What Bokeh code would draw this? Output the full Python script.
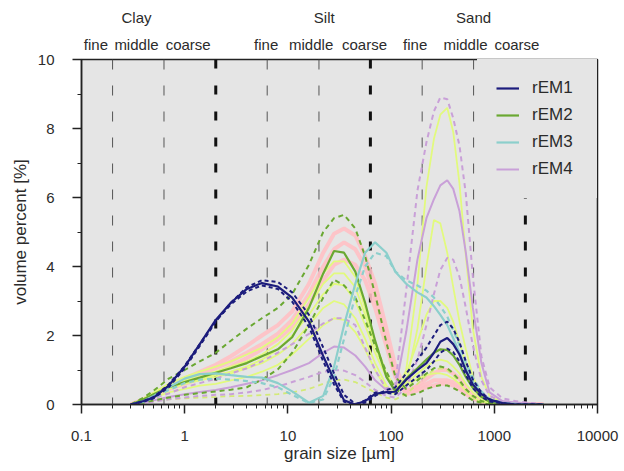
from bokeh.plotting import figure
from bokeh.models import (Range1d, FixedTicker, CustomJSTickFormatter, Legend, LegendItem, LogAxis)
from bokeh.embed import file_html
from bokeh.resources import INLINE

# ---------------- data ----------------
GRAIN_UM = [0.3, 0.4, 0.5, 0.7, 1.0, 1.4, 2.0, 2.8, 4.0, 5.6, 8.0,
            11, 16, 22, 28, 35, 45, 56, 70, 90,
            110, 140, 180, 220, 260, 300, 350, 400, 460, 530, 620, 750, 900,
            1200, 1600, 2200, 3000]

REM1 = [0.0, 0.1, 0.2, 0.55, 1.1, 1.75, 2.45, 2.95, 3.35, 3.52, 3.42,
        3.1, 2.4, 1.4, 0.72, 0.12, 0.0, 0.1, 0.31, 0.36,
        0.37, 0.72, 1.0, 1.2, 1.5, 1.82, 1.93, 1.75, 1.45, 0.98, 0.58, 0.3, 0.14,
        0.04, 0.0, 0.0, 0.0]
REM1_HI = [0.0, 0.08, 0.18, 0.5, 1.05, 1.7, 2.4, 2.95, 3.4, 3.6, 3.55,
           3.25, 2.6, 1.65, 0.9, 0.28, 0.02, 0.05, 0.25, 0.42,
           0.5, 0.9, 1.3, 1.65, 2.0, 2.3, 2.4, 2.2, 1.8, 1.25, 0.72, 0.35, 0.15,
           0.04, 0.0, 0.0, 0.0]
REM1_LO = [0.0, 0.1, 0.22, 0.58, 1.12, 1.75, 2.42, 2.9, 3.28, 3.45, 3.35,
           2.98, 2.25, 1.25, 0.58, 0.08, 0.0, 0.12, 0.35, 0.34,
           0.3, 0.55, 0.8, 1.0, 1.25, 1.5, 1.62, 1.52, 1.25, 0.85, 0.48, 0.22, 0.09,
           0.03, 0.0, 0.0, 0.0]

REM2 = [0.0, 0.15, 0.3, 0.5, 0.65, 0.78, 0.92, 1.05, 1.2, 1.4, 1.6,
        1.95, 2.8, 3.8, 4.45, 4.4, 3.85, 2.95, 1.85, 0.8,
        0.38, 0.75, 1.05, 1.3, 1.5, 1.6, 1.58, 1.42, 1.15, 0.8, 0.48, 0.22, 0.08,
        0.02, 0.0, 0.0, 0.0]
REM2_HI = [0.0, 0.2, 0.4, 0.75, 1.0, 1.25, 1.5, 1.85, 2.2, 2.5, 2.8,
           3.2, 4.05, 5.0, 5.4, 5.5, 5.1, 4.3, 3.2, 1.8,
           0.8, 0.45, 0.7, 0.9, 1.05, 1.1, 1.05, 0.9, 0.7, 0.45, 0.25, 0.1, 0.04,
           0.0, 0.0, 0.0, 0.0]
REM2_LO = [0.0, 0.05, 0.12, 0.2, 0.28, 0.33, 0.38, 0.43, 0.5, 0.72, 1.02,
           1.5, 2.3, 3.1, 3.62, 3.45, 3.1, 2.45, 1.7, 0.95,
           0.45, 0.25, 0.32, 0.45, 0.52, 0.56, 0.55, 0.48, 0.38, 0.25, 0.12, 0.05, 0.0,
           0.0, 0.0, 0.0, 0.0]

REM3 = [0.0, 0.1, 0.25, 0.5, 0.75, 0.88, 0.9, 0.85, 0.8, 0.78, 0.62,
        0.38, 0.05, 0.25, 1.1, 2.3, 3.5, 4.4, 4.7, 4.4,
        3.85, 3.5, 3.25, 3.1, 2.85, 2.6, 2.3, 1.92, 1.5, 1.05, 0.65, 0.32, 0.14,
        0.04, 0.01, 0.0, 0.0]
REM3_ALT = [0.0, 0.08, 0.2, 0.42, 0.62, 0.72, 0.75, 0.72, 0.68, 0.62, 0.5,
            0.28, 0.04, 0.15, 0.8, 1.9, 3.15, 4.0, 4.4, 4.3,
            3.85, 3.6, 3.45, 3.3, 3.1, 2.85, 2.55, 2.15, 1.72, 1.22, 0.78, 0.38, 0.16,
            0.05, 0.02, 0.0, 0.0]

REM4 = [0.0, 0.05, 0.12, 0.22, 0.3, 0.36, 0.42, 0.5, 0.6, 0.7, 0.85,
        1.0, 1.2, 1.5, 1.68, 1.65, 1.42, 1.1, 0.7, 0.42,
        0.45, 2.1, 4.2, 5.4, 5.95, 6.35, 6.5, 6.25, 5.6, 4.4, 2.8, 1.2, 0.35,
        0.1, 0.06, 0.03, 0.0]
REM4_HI = [0.0, 0.08, 0.18, 0.32, 0.5, 0.62, 0.75, 0.9, 1.05, 1.25, 1.5,
           1.75, 2.05, 2.35, 2.5, 2.5, 2.3, 1.65, 1.0, 0.45,
           0.6, 3.3, 6.2, 7.6, 8.5, 8.9, 8.85, 8.3, 7.5, 6.1, 3.7, 1.4, 0.5,
           0.18, 0.1, 0.05, 0.0]
REM4_LO = [0.0, 0.03, 0.08, 0.15, 0.2, 0.25, 0.28, 0.3, 0.35, 0.42, 0.52,
           0.65, 0.8, 0.95, 1.0, 0.98, 0.85, 0.65, 0.42, 0.25,
           0.2, 0.5, 1.3, 2.3, 3.2, 3.9, 4.25, 4.2, 3.7, 2.8, 1.7, 0.7, 0.25,
           0.08, 0.03, 0.0, 0.0]

# single robust end-member runs (light lines)
LIME_A = [0.0, 0.18, 0.35, 0.6, 0.8, 0.95, 1.1, 1.25, 1.45, 1.65, 1.95,
          2.35, 3.1, 3.8, 4.15, 4.15, 3.7, 2.8, 1.8, 0.9,
          0.5, 0.55, 0.75, 0.85, 0.9, 0.9, 0.85, 0.75, 0.6, 0.4, 0.2, 0.08, 0.03,
          0.0, 0.0, 0.0, 0.0]
LIME_B = [0.0, 0.15, 0.3, 0.5, 0.65, 0.75, 0.85, 0.95, 1.1, 1.3, 1.6,
          2.0, 2.6, 3.2, 3.5, 3.45, 3.0, 2.3, 1.5, 0.8,
          0.45, 0.6, 0.9, 1.1, 1.25, 1.3, 1.25, 1.1, 0.9, 0.6, 0.35, 0.15, 0.05,
          0.0, 0.0, 0.0, 0.0]
LIME_C = [0.0, 0.12, 0.25, 0.45, 0.6, 0.7, 0.8, 0.9, 1.05, 1.2, 1.45,
          1.75, 2.3, 2.8, 3.0, 2.9, 2.5, 1.9, 1.2, 0.55,
          0.3, 0.6, 2.2, 4.0, 5.35, 5.25, 4.4, 3.4, 2.4, 1.6, 0.8, 0.3, 0.1,
          0.03, 0.0, 0.0, 0.0]
LIME_D = [0.0, 0.1, 0.2, 0.35, 0.45, 0.55, 0.6, 0.7, 0.8, 0.95, 1.15,
          1.45, 1.9, 2.3, 2.5, 2.45, 2.1, 1.6, 1.0, 0.45,
          0.3, 1.0, 3.5, 6.3, 7.7, 8.4, 8.6, 7.9, 6.4, 4.3, 2.2, 0.8, 0.25,
          0.05, 0.0, 0.0, 0.0]
LIME_E = [0.0, 0.15, 0.3, 0.55, 0.7, 0.85, 0.95, 1.1, 1.25, 1.45, 1.75,
          2.15, 2.85, 3.5, 3.8, 3.8, 3.4, 2.6, 1.7, 0.85,
          0.5, 0.9, 1.8, 2.6, 3.0, 3.0, 2.8, 2.4, 1.8, 1.2, 0.6, 0.25, 0.08,
          0.0, 0.0, 0.0, 0.0]
LIME_LOW = [0.0, 0.05, 0.1, 0.15, 0.18, 0.2, 0.22, 0.24, 0.25, 0.27, 0.3,
            0.35, 0.45, 0.6, 0.7, 0.72, 0.65, 0.5, 0.35, 0.2,
            0.15, 0.3, 0.6, 0.85, 1.0, 1.05, 1.0, 0.85, 0.65, 0.4, 0.2, 0.08, 0.0,
            0.0, 0.0, 0.0, 0.0]
PINK_A = [0.0, 0.15, 0.3, 0.55, 0.75, 0.95, 1.15, 1.4, 1.7, 2.0, 2.3,
          2.7, 3.5, 4.4, 4.95, 5.1, 4.9, 4.3, 3.5, 2.2,
          1.1, 0.4, 0.5, 0.6, 0.7, 0.7, 0.7, 0.65, 0.55, 0.4, 0.25, 0.1, 0.04,
          0.0, 0.0, 0.0, 0.0]
PINK_B = [0.0, 0.15, 0.28, 0.5, 0.7, 0.85, 1.05, 1.25, 1.5, 1.75, 2.05,
          2.45, 3.2, 4.0, 4.5, 4.7, 4.5, 4.0, 3.1, 1.9,
          0.9, 0.35, 0.55, 0.75, 0.9, 1.0, 1.0, 0.9, 0.75, 0.5, 0.3, 0.12, 0.04,
          0.0, 0.0, 0.0, 0.0]
PINK_C = [0.0, 0.12, 0.25, 0.45, 0.6, 0.75, 0.9, 1.1, 1.35, 1.6, 1.9,
          2.25, 2.9, 3.6, 4.05, 4.2, 4.05, 3.6, 2.8, 1.7,
          0.8, 0.3, 0.4, 0.5, 0.55, 0.6, 0.6, 0.55, 0.45, 0.3, 0.18, 0.07, 0.02,
          0.0, 0.0, 0.0, 0.0]

CLASS_BOUNDS = [0.2, 0.63, 2, 6.3, 20, 63, 200, 630, 2000]
MAJOR_BOUNDS = [2, 63, 2000]
GROUP_NAMES = ["Clay", "Silt", "Sand"]
GROUP_POS_UM = [0.341, 22.5, 630]
SUB_NAMES = ["fine", "middle", "coarse"] * 3
SUB_POS_UM = [0.138, 0.341, 1.08, 6.16, 16.8, 55.2, 171, 526, 1656]

X_TICKS = [0.1, 1, 10, 100, 1000, 10000]
Y_TICKS = [0, 2, 4, 6, 8, 10]
Y_MINOR = [1, 3, 5, 7, 9]

# ---------------- styles ----------------
FONT = "Liberation Sans"
TXT = "#2b2b2b"
BG = "#e5e5e5"
NAVY = "#1c1c7c"
GREEN = "#6aa832"
TEAL = "#8ccfcc"
PURPLE = "#c9a0d8"
LIME = "#e2fa7e"
PINK = "#ffc0c4"

p = figure(width=624, height=471, x_axis_type="log",
           x_range=Range1d(0.1, 10000), y_range=Range1d(0, 10),
           output_backend="svg", toolbar_location=None,
           min_border_left=81, min_border_right=27,
           min_border_top=59, min_border_bottom=67)
p.background_fill_color = BG
p.border_fill_color = "white"
p.outline_line_color = "#222222"
p.outline_line_width = 1.5
p.xgrid.visible = False
p.ygrid.visible = False

# class boundaries
thin = [b for b in CLASS_BOUNDS if b not in MAJOR_BOUNDS]
p.segment(x0=thin, y0=[10] * len(thin), x1=thin, y1=[0] * len(thin),
          line_color="#555555", line_width=1, line_dash="10 16")
p.segment(x0=MAJOR_BOUNDS, y0=[10] * 3, x1=MAJOR_BOUNDS, y1=[0] * 3,
          line_color="#111111", line_width=3, line_dash="9 17")

# light single runs
for ys in (PINK_A, PINK_B, PINK_C):
    p.line(GRAIN_UM, ys, line_color=PINK, line_width=4, line_alpha=0.9)
for ys in (LIME_A, LIME_B, LIME_C, LIME_D, LIME_E):
    p.line(GRAIN_UM, ys, line_color=LIME, line_width=1.8)
p.line(GRAIN_UM, LIME_LOW, line_color="#d3ea78", line_width=1.8, line_dash="5 4")

# end members
p.line(GRAIN_UM, REM4_HI, line_color=PURPLE, line_width=2, line_dash="5 4")
p.line(GRAIN_UM, REM4_LO, line_color=PURPLE, line_width=2, line_dash="5 4")
r4 = p.line(GRAIN_UM, REM4, line_color=PURPLE, line_width=2)
p.line(GRAIN_UM, REM2_HI, line_color=GREEN, line_width=2, line_dash="5 4")
p.line(GRAIN_UM, REM2_LO, line_color=GREEN, line_width=2, line_dash="5 4")
r2 = p.line(GRAIN_UM, REM2, line_color=GREEN, line_width=2.2)
p.line(GRAIN_UM, REM3_ALT, line_color=TEAL, line_width=2.2, line_dash="5 4")
r3 = p.line(GRAIN_UM, REM3, line_color=TEAL, line_width=2.2)
p.line(GRAIN_UM, REM1_HI, line_color=NAVY, line_width=2, line_dash="4 3")
p.line(GRAIN_UM, REM1_LO, line_color=NAVY, line_width=2, line_dash="4 3")
r1 = p.line(GRAIN_UM, REM1, line_color=NAVY, line_width=2.2)

legend = Legend(items=[LegendItem(label="rEM1", renderers=[r1]),
                       LegendItem(label="rEM2", renderers=[r2]),
                       LegendItem(label="rEM3", renderers=[r3]),
                       LegendItem(label="rEM4", renderers=[r4])],
                location="top_right", margin=0, padding=18, spacing=7,
                label_height=20, glyph_height=20, glyph_width=23,
                label_standoff=13, label_width=46,
                background_fill_color=BG, background_fill_alpha=1.0,
                border_line_color=BG, border_line_alpha=1.0,
                label_text_font=FONT, label_text_font_size="17px",
                label_text_color=TXT)
p.add_layout(legend)


def style_axis(ax):
    ax.axis_line_color = "#222222"
    ax.axis_line_width = 1.5
    ax.major_tick_line_color = "#222222"
    ax.minor_tick_line_color = "#222222"
    ax.major_tick_line_width = 1.5
    ax.major_tick_out = 9
    ax.major_tick_in = 0
    ax.minor_tick_out = 4
    ax.minor_tick_in = 0
    ax.major_label_text_font = FONT
    ax.major_label_text_font_size = "15px"
    ax.major_label_text_color = TXT
    ax.axis_label_text_font = FONT
    ax.axis_label_text_font_size = "17px"
    ax.axis_label_text_font_style = "normal"
    ax.axis_label_text_color = TXT


# x axis
xa = p.xaxis[0]
style_axis(xa)
xa.ticker = FixedTicker(ticks=X_TICKS,
                        minor_ticks=[k * d for d in [0.1, 1, 10, 100, 1000] for k in range(2, 10)])
xa.formatter = CustomJSTickFormatter(code="return tick < 1 ? tick.toFixed(1) : tick.toFixed(0);")
xa.axis_label = "grain size [µm]"
xa.major_label_standoff = 17
xa.axis_label_standoff = 0

# y axis
ya = p.yaxis[0]
style_axis(ya)
ya.ticker = FixedTicker(ticks=Y_TICKS, minor_ticks=Y_MINOR)
ya.axis_label = "volume percent [%]"
ya.major_label_standoff = 18
ya.axis_label_standoff = 5


# class labels above the plot, as label-only axes
def label_axis(positions, names, standoff):
    ax = LogAxis(ticker=FixedTicker(ticks=positions, minor_ticks=[]),
                 formatter=CustomJSTickFormatter(args=dict(names=names),
                                                 code="return names[index];"))
    ax.axis_line_color = None
    ax.major_tick_line_color = None
    ax.minor_tick_line_color = None
    ax.major_tick_out = 0
    ax.major_tick_in = 0
    ax.major_label_standoff = standoff
    ax.major_label_text_font = FONT
    ax.major_label_text_font_size = "15px"
    ax.major_label_text_color = TXT
    return ax


p.add_layout(label_axis(SUB_POS_UM, SUB_NAMES, 7), "above")
p.add_layout(label_axis(GROUP_POS_UM, GROUP_NAMES, 7), "above")

open("out.html", "w").write(file_html(p, INLINE))
